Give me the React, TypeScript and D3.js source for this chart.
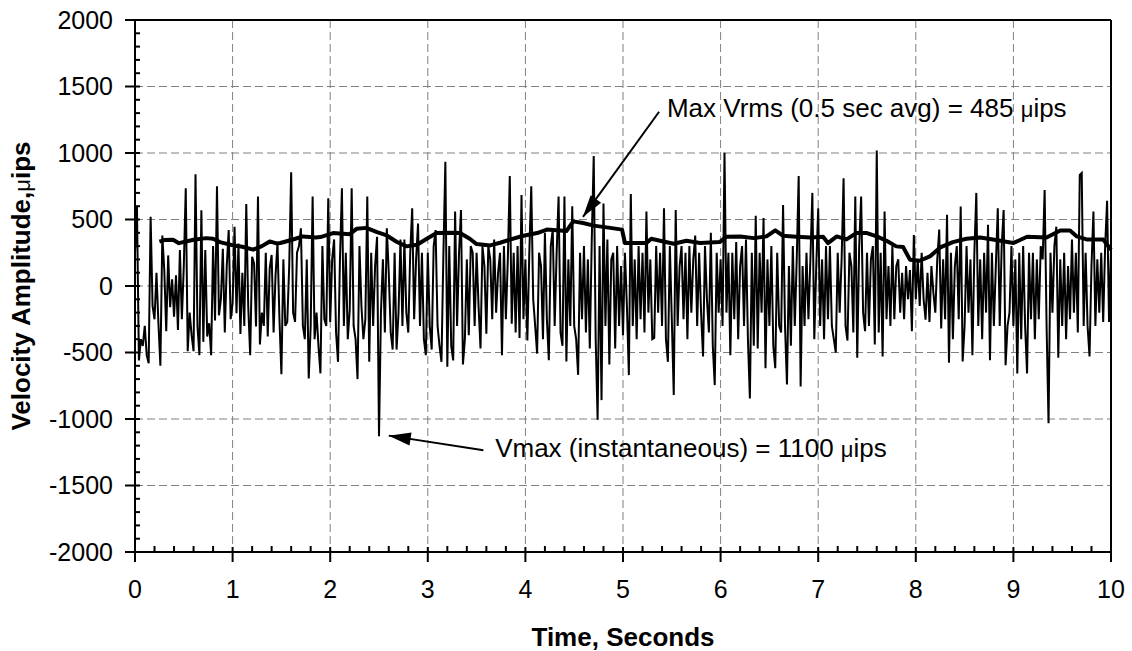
import React from 'react';
import * as d3 from 'd3';

const width = 1132;
const height = 651;
const margin = { top: 20, right: 21, bottom: 99, left: 135 };

// instantaneous velocity, one sample every 0.02 s
const timeStep = 0.02;
const velocity = [
  250, 600, -560, -400, -450, -300, -520, -580, 520, -150,
  -250, 100, -280, -600, 380, 120, -340, 230, -160, 50,
  -230, 80, -330, 270, -250, 150, 735, -490, -200, -370,
  -490, 840, -300, -520, 570, -420, 270, -380, -280, -520,
  300, -260, 750, -220, -100, 280, -350, 150, 420, -250,
  -130, 446, -205, 320, -360, 100, -300, 617, -150, -520,
  220, 170, -305, 672, -440, -200, -300, 250, -380, 130,
  233, -350, 80, 320, -250, -664, 200, -300, -270, 150,
  855, -200, -270, 250, 300, 434, -300, -400, 200, -695,
  -300, 672, -400, -200, -455, -657, 300, -250, -300, 660,
  -270, 200, 350, -350, -570, 200, 735, -300, 250, -400,
  -180, 735, -300, -400, -700, 300, -150, -400, -250, 672,
  -570, 250, -300, 150, 370, -1130, -200, 200, -350, 434,
  100, -350, -478, 250, -478, -200, 350, -300, 350, -200,
  -350, 250, 585, -250, 200, 470, -300, 250, -400, -520,
  250, -300, -478, 300, 420, -300, -450, -570, 250, 934,
  -607, 300, -450, -560, 560, -300, 250, 571, -590, -400,
  200, -370, 300, 250, -300, 250, -150, -470, 300, 150,
  -358, 300, 200, -250, 350, -200, 100, 250, -520, 300,
  -250, 200, 827, -283, 250, -350, 300, -390, 685, -250,
  200, -410, 250, 750, -100, -300, -508, 250, 150, -400,
  400, -250, -558, 300, 424, -300, 250, 672, -350, -450,
  672, -568, 200, -300, 600, -300, -400, -668, 250, -250,
  300, -350, 200, -470, 350, 977, -400, -1006, 300, -858,
  620, -300, 350, -590, 200, 250, -470, 300, -300, 150,
  -370, 250, -150, -670, 692, -300, 200, -400, 300, -250,
  250, -350, 560, -200, 200, -400, -390, 300, -200, 250,
  -300, 585, -400, -570, 300, -250, -820, 571, -300, 150,
  300, -250, 250, -400, 300, -200, 200, 380, -300, 250,
  -200, -530, 300, -100, -350, 400, -450, -745, 250, -200,
  200, -300, 1002, -200, 250, -520, 250, -250, 330, -400,
  150, 300, -300, 350, -400, -845, 250, -450, 528, -470,
  250, -200, 511, -618, 200, -300, 300, -450, -618, 250,
  -300, -350, 609, -300, -740, 150, -450, 300, -300, 200,
  827, -755, 150, -300, 250, -250, 200, 700, -400, 150,
  585, -300, 200, -400, 300, -250, 300, -300, -400, -500,
  250, -200, 200, 810, -300, -410, 250, 150, -350, 672,
  -540, 300, 672, -200, -340, 250, -300, 200, 300, -440,
  1018, -350, 250, -530, 560, -250, 150, -300, 300, -250,
  150, 200, -200, 100, -250, 150, -100, 120, -340, 384,
  -100, 200, -150, 250, -100, -253, 100, -270, 150, -50,
  -200, 200, 424, -320, 200, -250, 536, -577, 250, -400,
  150, 300, -250, 598, -568, -300, 300, -200, 200, -520,
  250, 700, -300, 200, -400, 250, -200, 460, -558, 250,
  -300, 150, 585, -300, 300, 571, -595, -300, -200, 300,
  -300, 200, -657, 250, -400, 300, -300, -657, 250, -250,
  250, -400, 200, -250, 300, 200, 722, -300, -1032, 250,
  -200, 300, 446, -540, 200, -300, 250, -400, 150, -250,
  350, -200, 250, -350, 835, 850, -300, 250, -300, -530,
  150, 560, -300, 200, -200, 250, -270, 300, 640, -270,
  270,
];

// 0.5 sec running rms
const rmsTime = [
  0.25, 0.3, 0.39, 0.45, 0.6, 0.73, 0.8, 0.87, 1.01, 1.1,
  1.21, 1.3, 1.38, 1.45, 1.49, 1.61, 1.72, 1.85, 1.9, 2.03,
  2.2, 2.27, 2.37, 2.48, 2.58, 2.68, 2.78, 2.89, 2.99, 3.09,
  3.23, 3.33, 3.43, 3.5, 3.64, 3.74, 3.84, 3.98, 4.12, 4.22,
  4.42, 4.49, 4.59, 4.7, 4.87, 4.99, 5.02, 5.24, 5.29, 5.38,
  5.52, 5.65, 5.79, 5.99, 6.06, 6.2, 6.34, 6.47, 6.56, 6.64,
  6.74, 6.92, 7.05, 7.1, 7.19, 7.29, 7.39, 7.5, 7.6, 7.7,
  7.8, 7.87, 7.94, 8.04, 8.15, 8.25, 8.38, 8.52, 8.66, 8.79,
  9.0, 9.14, 9.34, 9.48, 9.58, 9.65, 9.75, 9.92, 10.0,
];
const rmsValue = [
  333, 345, 348, 322, 348, 360, 355, 330, 305, 295,
  273, 300, 335, 320, 323, 348, 373, 365, 368, 398,
  390, 430, 437, 405, 380, 333, 298, 310, 355, 398,
  400, 398, 355, 315, 305, 325, 348, 378, 398, 424,
  413, 486, 474, 454, 437, 424, 323, 323, 355, 340,
  318, 340, 323, 330, 370, 373, 360, 373, 418, 378,
  373, 365, 370, 323, 373, 350, 398, 398, 373, 340,
  298, 293, 198, 190, 225, 290, 330, 355, 365, 350,
  323, 370, 365, 418, 418, 373, 350, 350, 273,
];

const xTicks = [0, 1, 2, 3, 4, 5, 6, 7, 8, 9, 10];
const yTicks = [-2000, -1500, -1000, -500, 0, 500, 1000, 1500, 2000];

const font = 'Liberation Sans, Arial, sans-serif';

export default function App() {
  const x = d3.scaleLinear().domain([0, 10]).range([margin.left, width - margin.right]);
  const y = d3.scaleLinear().domain([-2000, 2000]).range([height - margin.bottom, margin.top]);

  const signalPath = d3.line<number>()
    .x((d, i) => x(i * timeStep))
    .y(d => y(d))(velocity);

  const rmsPath = d3.line<number>()
    .x((d, i) => x(rmsTime[i]))
    .y(d => y(d))(rmsValue);

  const xMinor = d3.range(0, 10.001, 0.2).filter(v => Math.abs(v - Math.round(v)) > 0.01);
  const yMinor = d3.range(-2000, 2001, 100).filter(v => v % 500 !== 0);

  const x0 = x(0), x1 = x(10), yB = y(-2000), yT = y(2000);

  const arrowHead = (tx: number, ty: number, fx: number, fy: number, len = 22, half = 6.5) => {
    const a = Math.atan2(ty - fy, tx - fx);
    const bx = tx - len * Math.cos(a), by = ty - len * Math.sin(a);
    const px = -Math.sin(a) * half, py = Math.cos(a) * half;
    return `M${tx},${ty}L${bx + px},${by + py}L${bx - px},${by - py}Z`;
  };

  // annotation anchors in data units
  const rmsTip = [x(4.59), y(520)], rmsTail = [x(5.37), y(1310)];
  const maxTip = [x(2.6), y(-1125)], maxTail = [x(3.57), y(-1235)];

  return (
    <svg width={width} height={height} style={{ position: 'absolute', left: 0, top: 0, background: '#fff' }}
      fontFamily={font}>
      <rect width={width} height={height} fill="#fff" />
      {/* grid */}
      <g stroke="#808080" strokeWidth={1} strokeDasharray="8,4">
        {xTicks.slice(1, -1).map(t => (
          <line key={'gx' + t} x1={x(t)} x2={x(t)} y1={yT} y2={yB} />
        ))}
        {yTicks.slice(1, -1).map(t => (
          <line key={'gy' + t} x1={x0} x2={x1} y1={y(t)} y2={y(t)} />
        ))}
      </g>

      <path d={signalPath ?? ''} fill="none" stroke="#000" strokeWidth={2} strokeLinejoin="miter" />
      <path d={rmsPath ?? ''} fill="none" stroke="#000" strokeWidth={4} strokeLinejoin="round" />

      {/* frame and ticks */}
      <g stroke="#000" strokeWidth={2}>
        <line x1={x0} x2={x1} y1={yT} y2={yT} />
        <line x1={x1} x2={x1} y1={yT} y2={yB} />
        <line x1={x0} x2={x1} y1={yB} y2={yB} />
        <line x1={x0} x2={x0} y1={yT} y2={yB} />
        {yTicks.map(t => <line key={'ty' + t} x1={x0 - 10} x2={x0 + 5} y1={y(t)} y2={y(t)} />)}
        {yMinor.map(t => <line key={'my' + t} x1={x0} x2={x0 + 5} y1={y(t)} y2={y(t)} />)}
        {xTicks.map(t => <line key={'tx' + t} x1={x(t)} x2={x(t)} y1={yB - 5} y2={yB + 10} />)}
        {xMinor.map(t => <line key={'mx' + t} x1={x(t)} x2={x(t)} y1={yB - 6} y2={yB} />)}
      </g>

      <g fontSize={25} fill="#000">
        {yTicks.map(t => (
          <text key={'ly' + t} x={x0 - 22} y={y(t)} dy="0.35em" textAnchor="end">{t}</text>
        ))}
        {xTicks.map(t => (
          <text key={'lx' + t} x={x(t)} y={yB + 46} textAnchor="middle">{t}</text>
        ))}
      </g>

      <text x={(x0 + x1) / 2} y={646} textAnchor="middle" fontSize={26} fontWeight="bold">Time, Seconds</text>
      <text transform={`translate(30,${(yT + yB) / 2}) rotate(-90)`} textAnchor="middle" fontSize={26} fontWeight="bold">
        Velocity Amplitude,<tspan fontWeight="normal" fontSize={22}>μ</tspan>ips
      </text>

      {/* annotations */}
      <g stroke="#000" strokeWidth={2}>
        <line x1={rmsTail[0]} y1={rmsTail[1]} x2={rmsTip[0]} y2={rmsTip[1]} />
        <line x1={maxTail[0]} y1={maxTail[1]} x2={maxTip[0]} y2={maxTip[1]} />
      </g>
      <path d={arrowHead(rmsTip[0], rmsTip[1], rmsTail[0], rmsTail[1])} fill="#000" />
      <path d={arrowHead(maxTip[0], maxTip[1], maxTail[0], maxTail[1])} fill="#000" />
      <text x={x(5.45)} y={y(1271)} fontSize={26}>
        Max Vrms (0.5 sec avg) = 485 <tspan fontSize={22}>μ</tspan>ips
      </text>
      <text x={x(3.69)} y={y(-1284)} fontSize={26}>
        Vmax (instantaneous) = 1100 <tspan fontSize={22}>μ</tspan>ips
      </text>
    </svg>
  );
}
